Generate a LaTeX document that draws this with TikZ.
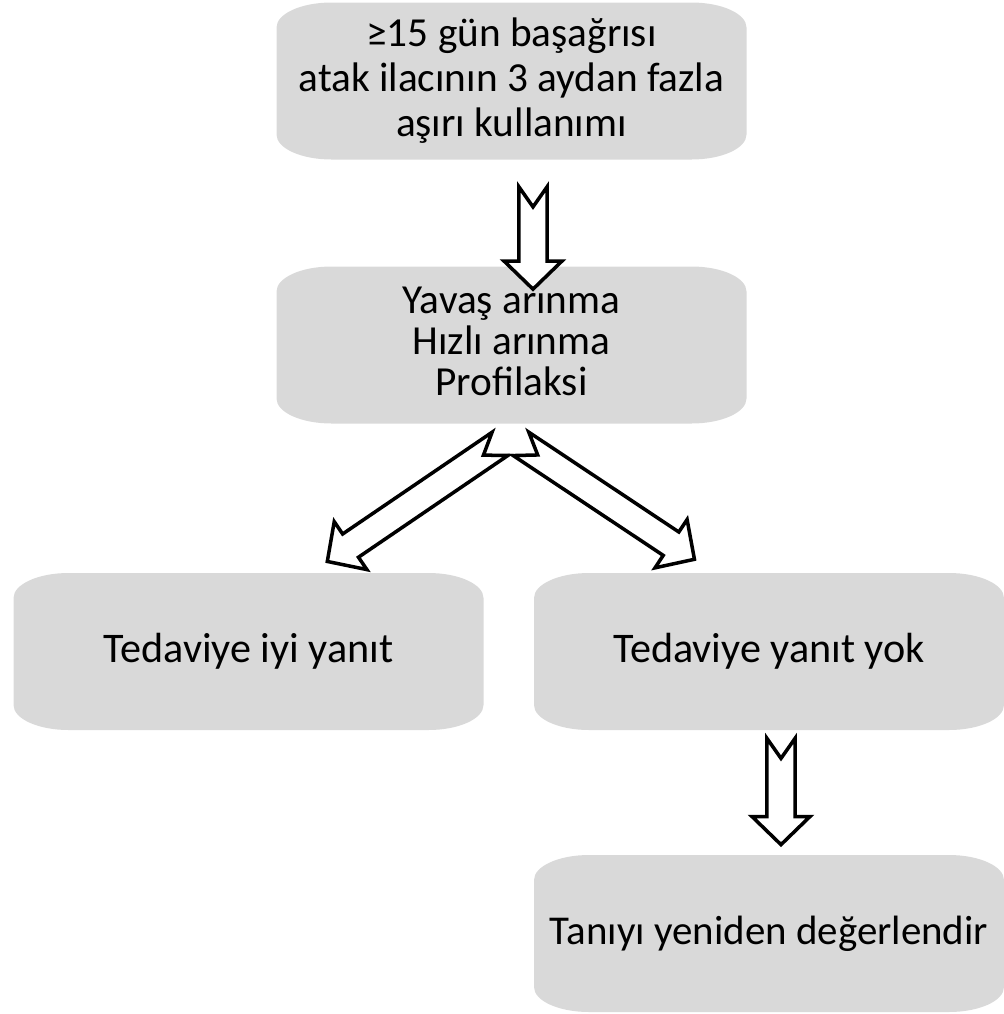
\documentclass[tikz,border=0pt]{standalone}
\usepackage{fontspec}
\setmainfont{Carlito}
\usetikzlibrary{calc,decorations.markings}
\definecolor{boxgray}{RGB}{217,217,217}

\tikzset{
  flowbox/.style={minimum width=9.4cm, minimum height=3.14cm, inner sep=0pt, align=center,
    path picture={\fill[boxgray] let \p1=(path picture bounding box.south west),
      \p2=(path picture bounding box.north east) in
      (\x1,\y1+0.5cm) -- (\x1,\y2-0.5cm) arc[start angle=180, end angle=90, x radius=1.1cm, y radius=0.5cm]
      -- (\x2-1.1cm,\y2) arc[start angle=90, end angle=0, x radius=1.1cm, y radius=0.5cm]
      -- (\x2,\y1+0.5cm) arc[start angle=0, end angle=-90, x radius=1.1cm, y radius=0.5cm]
      -- (\x1+1.1cm,\y1) arc[start angle=270, end angle=180, x radius=1.1cm, y radius=0.5cm] -- cycle;}},
  hollowarrow/.style={decorate, decoration={markings, mark=at position 0 with {
    \pgfmathsetlengthmacro\arrlen{\pgfdecoratedpathlength}
    \draw[line width=2pt, fill=white] (0pt,8pt) -- (11.4pt,0pt) -- (0pt,-8pt)
      -- ({\arrlen-16pt},-8pt) -- ({\arrlen-16pt},-16.5pt) -- (\arrlen,0pt)
      -- ({\arrlen-16pt},16.5pt) -- ({\arrlen-16pt},8pt) -- cycle;}}}
}

\begin{document}
\begin{tikzpicture}
\useasboundingbox (0,0) rectangle (20.08,-20.28);
% boxes
\node[flowbox, font=\fontsize{23.5}{25.6}\selectfont] (overuse) at (10.23,-1.62) {≥15 gün başağrısı\\atak ilacının 3 aydan fazla\\aşırı kullanımı};
\node[flowbox, font=\fontsize{23.5}{23.4}\selectfont, text depth=0.15cm] (withdrawal) at (10.23,-6.9) {Yavaş arınma\\Hızlı arınma\\Profilaksi};
\node[flowbox, font=\fontsize{24}{28}\selectfont] (goodresp) at (4.97,-13.03) {Tedaviye iyi yanıt};
\node[flowbox, font=\fontsize{24}{28}\selectfont] (noresp) at (15.38,-13.03) {Tedaviye yanıt yok};
\node[flowbox, font=\fontsize{23.3}{28}\selectfont] (reassess) at (15.38,-18.67) {Tanıyı yeniden değerlendir};
% arrows
\path[hollowarrow] ([shift={(0.43,-0.54)}]overuse.south) -- ([shift={(0.43,-0.46)}]withdrawal.north);
\path[hollowarrow] ([shift={(-0.23,-0.4)}]withdrawal.south) -- ([shift={(1.57,0.22)}]goodresp.north);
\path[hollowarrow] ([shift={(0.19,-0.4)}]withdrawal.south) -- ([shift={(-1.48,0.26)}]noresp.north);
\path[hollowarrow] ([shift={(0.24,-0.16)}]noresp.south) -- ([shift={(0.24,0.2)}]reassess.north);
\end{tikzpicture}
\end{document}
